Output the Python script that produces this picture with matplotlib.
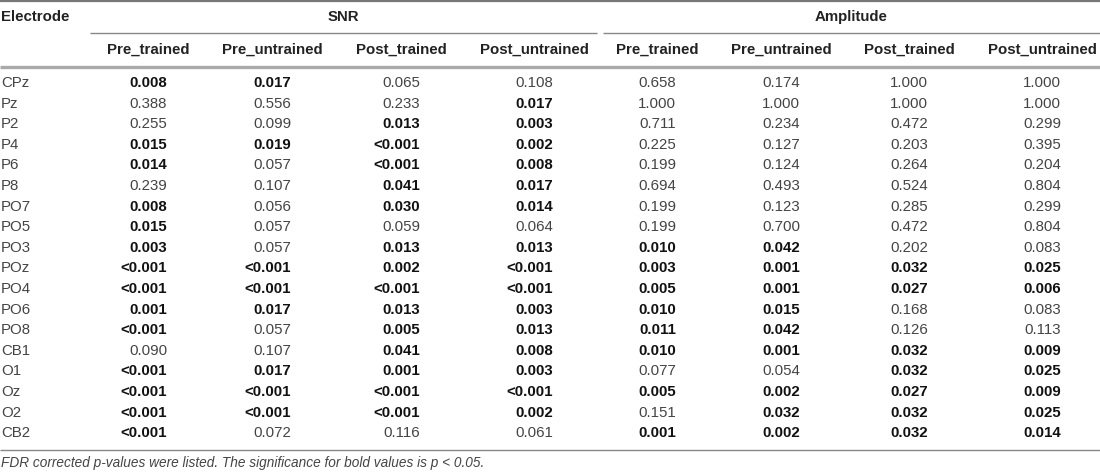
import matplotlib
matplotlib.use("Agg")
import matplotlib.pyplot as plt

plt.rcParams['font.family'] = ['Liberation Sans', 'DejaVu Sans']

electrodes = ['CPz', 'Pz', 'P2', 'P4', 'P6', 'P8', 'PO7', 'PO5', 'PO3', 'POz',
              'PO4', 'PO6', 'PO8', 'CB1', 'O1', 'Oz', 'O2', 'CB2']
groups = ['SNR', 'Amplitude']
conditions = ['Pre_trained', 'Pre_untrained', 'Post_trained', 'Post_untrained']

snr_pre_trained = ['0.008', '0.388', '0.255', '0.015', '0.014', '0.239', '0.008', '0.015', '0.003',
                   '<0.001', '<0.001', '0.001', '<0.001', '0.090', '<0.001', '<0.001', '<0.001', '<0.001']
snr_pre_untrained = ['0.017', '0.556', '0.099', '0.019', '0.057', '0.107', '0.056', '0.057', '0.057',
                     '<0.001', '<0.001', '0.017', '0.057', '0.107', '0.017', '<0.001', '<0.001', '0.072']
snr_post_trained = ['0.065', '0.233', '0.013', '<0.001', '<0.001', '0.041', '0.030', '0.059', '0.013',
                    '0.002', '<0.001', '0.013', '0.005', '0.041', '0.001', '<0.001', '<0.001', '0.116']
snr_post_untrained = ['0.108', '0.017', '0.003', '0.002', '0.008', '0.017', '0.014', '0.064', '0.013',
                      '<0.001', '<0.001', '0.003', '0.013', '0.008', '0.003', '<0.001', '0.002', '0.061']
amp_pre_trained = ['0.658', '1.000', '0.711', '0.225', '0.199', '0.694', '0.199', '0.199', '0.010',
                   '0.003', '0.005', '0.010', '0.011', '0.010', '0.077', '0.005', '0.151', '0.001']
amp_pre_untrained = ['0.174', '1.000', '0.234', '0.127', '0.124', '0.493', '0.123', '0.700', '0.042',
                     '0.001', '0.001', '0.015', '0.042', '0.001', '0.054', '0.002', '0.032', '0.002']
amp_post_trained = ['1.000', '1.000', '0.472', '0.203', '0.264', '0.524', '0.285', '0.472', '0.202',
                    '0.032', '0.027', '0.168', '0.126', '0.032', '0.032', '0.027', '0.032', '0.032']
amp_post_untrained = ['1.000', '1.000', '0.299', '0.395', '0.204', '0.804', '0.299', '0.804', '0.083',
                      '0.025', '0.006', '0.083', '0.113', '0.009', '0.025', '0.009', '0.025', '0.014']

columns = [snr_pre_trained, snr_pre_untrained, snr_post_trained, snr_post_untrained,
           amp_pre_trained, amp_pre_untrained, amp_post_trained, amp_post_untrained]
footnote = 'FDR corrected p-values were listed. The significance for bold values is p < 0.05.'


def is_sig(s):
    # bold when p < 0.05
    return s.startswith('<') or float(s) < 0.05


W, H = 1100, 473
fig = plt.figure(figsize=(W / 100, H / 100), dpi=100)
ax = fig.add_axes([0, 0, 1, 1])
ax.set_xlim(0, W)
ax.set_ylim(H, 0)
ax.axis('off')

fs = 10.8
head_col = '#222222'
reg_col = '#444444'
bold_col = '#111111'

col_right = [167, 291, 420, 553, 676, 800, 928, 1061]
col_centers = [x - 19 for x in col_right]
group_spans = [(90, 597), (603, 1100)]
group_centers = [(a + b) / 2 for a, b in group_spans]

y_group = 17
y_sub = 50
y_row0 = 83
dy = 20.6

# rules
ax.plot([0, W], [1, 1], color='#777777', lw=1.6, solid_capstyle='butt')
for x0, x1 in group_spans:
    ax.plot([x0, x1], [33, 33], color='#888888', lw=1.0, solid_capstyle='butt')
ax.plot([0, W], [67, 67], color='#aaaaaa', lw=2.4, solid_capstyle='butt')
ax.plot([0, W], [450, 450], color='#888888', lw=1.0, solid_capstyle='butt')

ax.text(1, y_group, 'Electrode', fontsize=fs, fontweight='bold', color=head_col,
        ha='left', va='center')
for g, xc in zip(groups, group_centers):
    ax.text(xc, y_group, g, fontsize=fs, fontweight='bold', color=head_col,
            ha='center', va='center')
for i, xc in enumerate(col_centers):
    ax.text(xc, y_sub, conditions[i % 4], fontsize=fs, fontweight='bold', color=head_col,
            ha='center', va='center')

for r, name in enumerate(electrodes):
    y = y_row0 + r * dy
    ax.text(1, y, name, fontsize=fs, color=reg_col, ha='left', va='center')
    for c, vals in enumerate(columns):
        v = vals[r]
        b = is_sig(v)
        ax.text(col_right[c], y, v, fontsize=fs, fontweight='bold' if b else 'normal',
                color=bold_col if b else reg_col, ha='right', va='center')

ax.text(1, 463, footnote, fontsize=9.8, style='italic', color=reg_col,
        ha='left', va='center')

fig.savefig('out.png', dpi=100)
